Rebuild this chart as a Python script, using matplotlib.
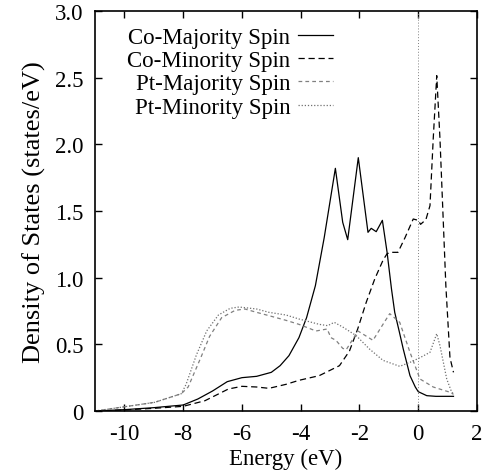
import matplotlib
matplotlib.use("Agg")
import matplotlib.pyplot as plt

plt.rcParams['font.family'] = ['Liberation Serif', 'DejaVu Serif']
plt.rcParams['axes.unicode_minus'] = False

co_maj_x = [-11, -10, -9, -8, -7.5, -7, -6.5, -6, -5.5, -5, -4.7, -4.4, -4.06, -3.8, -3.5, -3.2,
            -2.82, -2.57, -2.40, -2.04, -1.71, -1.60, -1.43, -1.22, -1.06, -0.91, -0.8, -0.65,
            -0.51, -0.28, -0.1, 0, 0.29, 0.6, 1.2]
co_maj_y = [0, 0.01, 0.025, 0.045, 0.09, 0.15, 0.22, 0.25, 0.26, 0.29, 0.34, 0.415, 0.55, 0.7,
            0.94, 1.3, 1.82, 1.415, 1.285, 1.90, 1.34, 1.37, 1.345, 1.43, 1.19, 0.915, 0.74, 0.6,
            0.465, 0.265, 0.18, 0.145, 0.115, 0.11, 0.11]

co_min_x = [-11, -10, -9, -8, -7.26, -6.46, -6.0, -5.5, -5.08, -4.5, -4.06, -3.37, -2.68, -2.34,
            -2.06, -1.77, -1.48, -1.2, -1.06, -0.9, -0.69, -0.45, -0.17, 0, 0.08, 0.26, 0.4,
            0.51, 0.63, 0.74, 0.94, 1.08, 1.2]
co_min_y = [0, 0.008, 0.02, 0.035, 0.077, 0.165, 0.185, 0.18, 0.17, 0.2, 0.23, 0.265, 0.34, 0.45,
            0.615, 0.815, 0.99, 1.13, 1.18, 1.19, 1.19, 1.3, 1.44, 1.43, 1.40, 1.435, 1.54,
            2.04, 2.515, 2.04, 0.94, 0.40, 0.29]

pt_maj_x = [-11, -10.05, -8.97, -8.06, -7.83, -7.4, -7.1, -6.69, -6.23, -5.9, -5.5, -5.08, -4.5,
            -4.06, -3.48, -3.1, -2.97, -2.8, -2.57, -2.45, -2.05, -1.54, -1.2, -0.97, -0.63,
            -0.28, 0.06, 0.51, 1.09, 1.2]
pt_maj_y = [0, 0.03, 0.065, 0.13, 0.18, 0.4, 0.56, 0.7, 0.755, 0.765, 0.74, 0.715, 0.68,
            0.65, 0.60, 0.615, 0.55, 0.53, 0.47, 0.46, 0.6, 0.53, 0.65, 0.73, 0.665,
            0.44, 0.24, 0.18, 0.14, 0.125]

pt_min_x = [-11, -10.05, -8.97, -8.06, -7.9, -7.55, -7.2, -6.8, -6.4, -6.1, -5.5, -5.08, -4.5,
            -4.06, -3.37, -3.08, -2.86, -2.57, -2.11, -1.66, -1.2, -0.63, -0.28, 0.06, 0.4,
            0.63, 0.74, 0.97, 1.14, 1.2]
pt_min_y = [0, 0.03, 0.065, 0.13, 0.2, 0.42, 0.6, 0.72, 0.77, 0.78, 0.765, 0.74, 0.72,
            0.69, 0.65, 0.64, 0.665, 0.63, 0.565, 0.465, 0.38, 0.335, 0.365, 0.40, 0.44,
            0.58, 0.49, 0.24, 0.14, 0.13]

labels = ["Co-Majority Spin", "Co-Minority Spin", "Pt-Majority Spin", "Pt-Minority Spin"]
x_ticks = [-10, -8, -6, -4, -2, 0, 2]
y_ticks = [0, 0.5, 1.0, 1.5, 2.0, 2.5, 3.0]
y_tick_labels = ["0", "0.5", "1.0", "1.5", "2.0", "2.5", "3.0"]

FS = 16.5
fig = plt.figure(figsize=(4.87, 4.77), dpi=100)
ax = fig.add_axes([95/487, 65/477, 382/487, 400/477])

lw = 0.9
ax.plot(co_maj_x, co_maj_y, color='black', lw=lw, ls='-', label=labels[0])
ax.plot(co_min_x, co_min_y, color='black', lw=lw, ls=(0, (5, 3)), label=labels[1])
ax.plot(pt_maj_x, pt_maj_y, color='#808080', lw=lw, ls=(0, (3, 2.5)), label=labels[2])
ax.plot(pt_min_x, pt_min_y, color='#707070', lw=lw, ls=(0, (1, 1.5)), label=labels[3])
ax.axvline(0, color='#808080', lw=0.7, ls=(0, (1, 2)))

ax.set_xlim(-11, 2)
ax.set_ylim(0, 3.0)
ax.set_xticks(x_ticks)
ax.set_xticklabels([str(t) for t in x_ticks])
ax.set_yticks(y_ticks)
ax.set_yticklabels(y_tick_labels)
ax.tick_params(direction='in', top=True, right=True, length=5, width=1.0, labelsize=FS, pad=8.5)
for s in ax.spines.values():
    s.set_linewidth(1.2)

ax.set_xlabel("Energy (eV)", fontsize=FS, labelpad=3)
ax.set_ylabel("Density of States (states/eV)", fontsize=19, labelpad=6)

leg = ax.legend(loc='upper left', bbox_to_anchor=(0.06, 0.9825), frameon=False, markerfirst=False,
                fontsize=FS, handlelength=1.5, handletextpad=0.35, labelspacing=0.09,
                borderaxespad=0.0)
leg._legend_box.align = "right"
fig.savefig("out.png", dpi=100)
